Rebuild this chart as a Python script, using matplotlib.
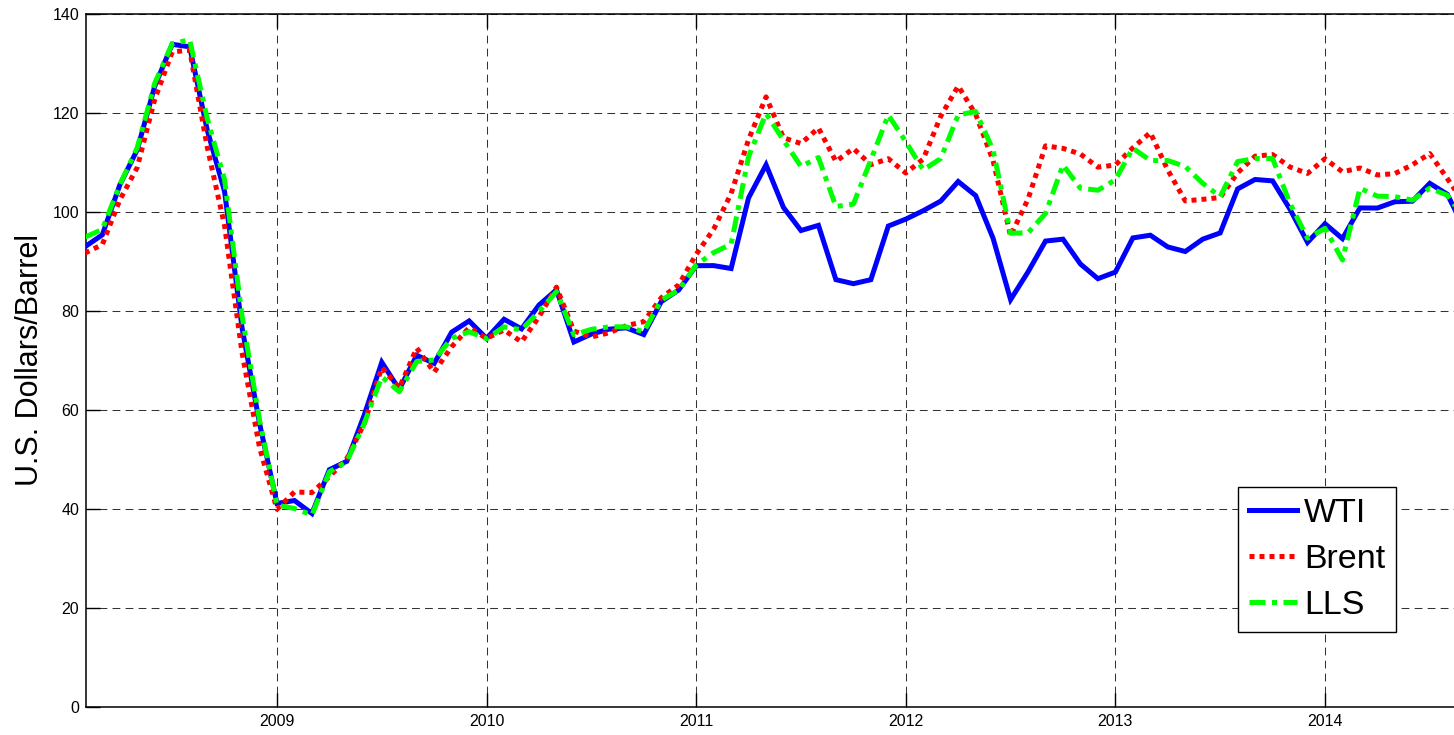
import matplotlib
matplotlib.use("Agg")
import matplotlib.pyplot as plt
import numpy as np

plt.rcParams['font.family'] = ['Liberation Sans', 'DejaVu Sans']

# Monthly data Jan 2008 - Aug 2014 (plotted at month end)
start_year = 2008
wti = [92.97, 95.39, 105.45, 112.58, 125.40, 133.88, 133.37, 116.67, 104.11, 76.61, 57.31, 41.12,
       41.71, 39.09, 47.94, 49.65, 59.03, 69.64, 64.15, 71.05, 69.41, 75.72, 77.99, 74.47,
       78.33, 76.39, 81.20, 84.29, 73.74, 75.34, 76.32, 76.60, 75.24, 81.89, 84.25, 89.15,
       89.17, 88.58, 102.86, 109.53, 100.90, 96.26, 97.30, 86.33, 85.52, 86.32, 97.16, 98.56,
       100.27, 102.20, 106.16, 103.32, 94.66, 82.30, 87.90, 94.13, 94.51, 89.49, 86.53, 87.86,
       94.76, 95.31, 92.94, 92.02, 94.51, 95.77, 104.67, 106.57, 106.29, 100.54, 93.86, 97.63,
       94.62, 100.82, 100.80, 102.07, 102.18, 105.79, 103.59, 96.54]
brent = [91.69, 93.42, 102.41, 109.01, 122.75, 132.32, 132.72, 113.24, 97.23, 71.58, 52.45, 39.95,
         43.44, 43.32, 46.54, 50.18, 57.30, 68.61, 64.44, 72.51, 67.65, 72.77, 76.66, 74.46,
         76.17, 73.75, 78.83, 84.82, 75.95, 74.76, 75.58, 77.04, 77.84, 82.67, 85.28, 91.45,
         96.52, 103.72, 114.64, 123.26, 114.99, 113.83, 116.97, 110.22, 112.83, 109.55, 110.77, 107.87,
         110.69, 119.33, 125.45, 119.75, 110.34, 95.16, 102.62, 113.36, 112.86, 111.71, 109.06, 109.49,
         112.96, 116.05, 108.47, 102.25, 102.56, 102.92, 107.93, 111.28, 111.60, 109.08, 107.79, 110.76,
         108.12, 108.90, 107.48, 107.76, 109.54, 111.80, 106.77, 101.61]
lls = [94.9, 96.5, 105.5, 113.0, 126.0, 134.0, 134.8, 119.0, 106.5, 79.0, 58.0, 40.8,
       40.1, 38.8, 47.5, 49.6, 57.3, 66.7, 63.7, 69.8, 70.1, 74.5, 75.8, 74.4,
       76.8, 76.2, 79.9, 83.9, 75.2, 76.3, 76.8, 76.8, 75.8, 82.2, 84.2, 89.3,
       91.8, 93.5, 111.2, 119.9, 114.5, 109.2, 111.0, 101.1, 101.6, 110.5, 119.6, 114.2,
       108.5, 110.8, 119.6, 120.3, 112.5, 95.7, 95.8, 99.7, 109.5, 104.8, 104.4, 106.5,
       112.9, 110.4, 110.4, 109.2, 105.8, 103.1, 110.2, 110.8, 110.8, 101.7, 94.7, 96.7,
       90.3, 104.8, 103.2, 103.1, 102.4, 104.8, 103.4, 98.6]
series_names = ['WTI', 'Brent', 'LLS']
year_ticks = [2009, 2010, 2011, 2012, 2013, 2014]
y_ticks = [0, 20, 40, 60, 80, 100, 120, 140]

x = start_year + (np.arange(len(wti)) + 1) / 12.0

W, H = 1454, 735
fig = plt.figure(figsize=(W / 100, H / 100), dpi=100)
ax_left, ax_bottom, ax_top = 86, 707, 14
ax_right = 1483
ax = fig.add_axes([ax_left / W, 1 - ax_bottom / H, (ax_right - ax_left) / W, (ax_bottom - ax_top) / H])

lw = 3.6
l1, = ax.plot(x, wti, color='#0000FF', lw=lw, solid_joinstyle='miter', label=series_names[0], zorder=3)
l2, = ax.plot(x, brent, color='#FF0000', lw=lw, linestyle=(0, (1.0, 1.0)), dash_capstyle='butt',
              label=series_names[1], zorder=4)
l3, = ax.plot(x, lls, color='#00FF00', lw=lw, linestyle=(0, (3.2, 1.3, 1.0, 1.3)), dash_capstyle='butt',
              label=series_names[2], zorder=5)

x_left = start_year + 1 / 12.0 + 0.0055
x_per_px = 5.0 / 1048.0
ax.set_xlim(x_left, x_left + (ax_right - ax_left) * x_per_px)
ax.set_ylim(0, 140)
ax.set_xticks(year_ticks)
ax.set_xticklabels([str(v) for v in year_ticks])
ax.set_yticks(y_ticks)

ax.grid(True, color='#000000', lw=0.75, linestyle=(0, (7.5, 5.0)), alpha=0.8, zorder=1)
ax.set_axisbelow(True)
ax.tick_params(direction='in', length=10, width=1.0, labelsize=11.5, pad=5,
               top=True, right=True, colors='black')
for s in ax.spines.values():
    s.set_linewidth(1.1)
    s.set_color('black')

ax.set_ylabel('U.S. Dollars/Barrel', fontsize=22, labelpad=5.5)

leg = ax.legend(handles=[l1, l2, l3], loc='upper left', bbox_to_anchor=(1238 / W, 1 - 487 / H),
                bbox_transform=fig.transFigure, borderaxespad=0, fontsize=24.5,
                handlelength=1.42, handletextpad=0.2, labelspacing=0.44, borderpad=0.32,
                fancybox=False, framealpha=1, edgecolor='black')
leg.get_frame().set_linewidth(1.0)
leg.set_zorder(10)

fig.savefig('out.png', dpi=100)
